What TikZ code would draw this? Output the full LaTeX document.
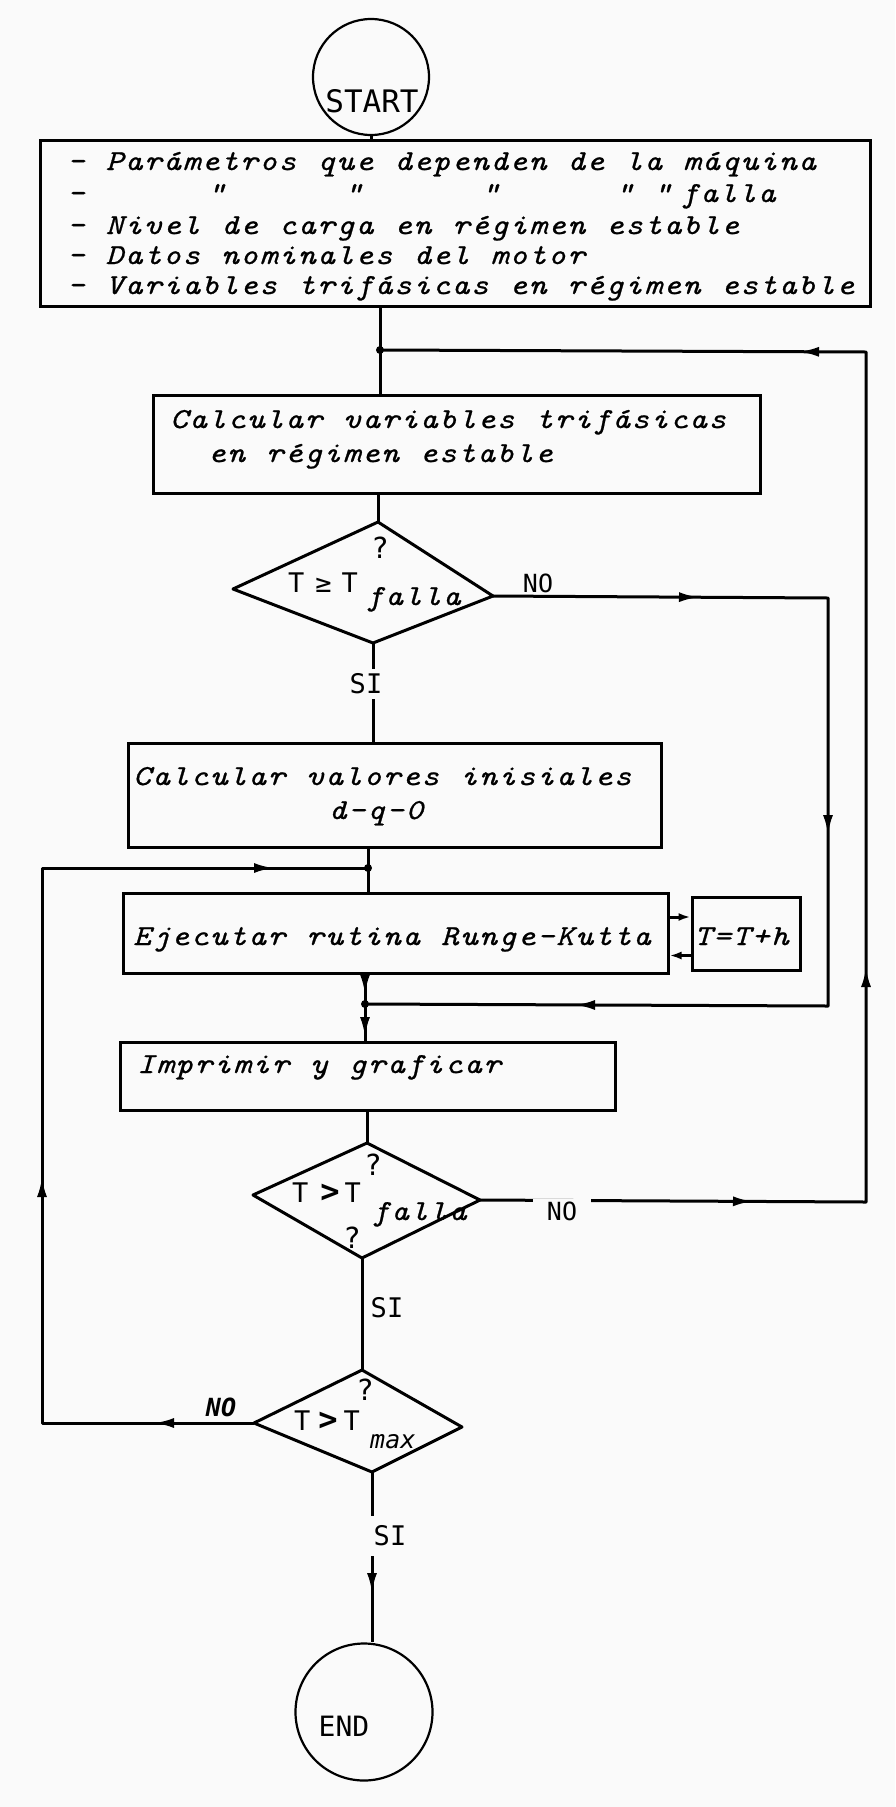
\documentclass[tikz,border=0pt]{standalone}
\usepackage{fontspec}
\usetikzlibrary{arrows.meta,decorations.markings}
\newfontfamily\scr{lmmono10-italic.otf}[FakeStretch=1.15,LetterSpace=5.9,WordSpace=1.097,FakeBold=0.8]
\newfontfamily\lbl{DejaVu Sans Mono}
\definecolor{bg}{RGB}{250,250,250}
\tikzset{
  ln/.style={line width=3pt, line join=round},
  boxnode/.style={draw, line width=3pt, rectangle, inner sep=0pt},
  dia/.style={line width=3pt, line join=round},
  term/.style={draw, line width=2.2pt, circle, inner sep=0pt},
  stxt/.style={inner sep=0pt, anchor=base west, font=\scr\fontsize{29}{31}\selectfont},
  ltxt/.style={inner sep=0pt, font=\lbl\fontsize{27}{30}\selectfont},
  qtxt/.style={inner sep=0pt, font=\lbl\fontsize{29}{31}\selectfont},
  cut/.style={fill=bg, inner xsep=14pt, inner ysep=3pt},
  jdot/.style={circle, fill, inner sep=0pt, minimum size=8pt},
  marr/.style={postaction={decorate, decoration={markings, mark=at position #1 with {\arrow{Latex[length=20pt,width=10pt]}}}}},
  smarr/.style={-{Latex[length=12pt,width=8pt]}},
}
\newcommand{\bigrel}[1]{{\bfseries\fontsize{32}{32}\selectfont #1}}
\begin{document}
\begin{tikzpicture}[x=1pt,y=-1pt]
\fill[bg] (0,0) rectangle (895,1807);
\useasboundingbox (0,0) rectangle (895,1807);

% ---------- nodes ----------
\node[term, minimum size=116pt] (start) at (371,77) {};
\node[ltxt, font=\lbl\fontsize{31}{32}\selectfont] (starttxt) at (372,101) {START};

\node[boxnode, minimum width=830pt, minimum height=166pt] (b1) at (455,223) {};
\node[stxt] (l1) at (67,170) {- Parámetros que dependen de la máquina};
\node[stxt] (l2) at (67,202) {-};
\node[stxt, anchor=base] (q1) at (216,202) {"};
\node[stxt, anchor=base] (q2) at (353,202) {"};
\node[stxt, anchor=base] (q3) at (490,202) {"};
\node[stxt, anchor=base] (q4) at (624,202) {"};
\node[stxt, anchor=base] (q5) at (662,202) {"};
\node[stxt] (l2f) at (681,202) {falla};
\node[stxt] (l3) at (67,234) {- Nivel de carga en régimen estable};
\node[stxt] (l4) at (67,264) {- Datos nominales del motor};
\node[stxt] (l5) at (67,294) {- Variables trifásicas en régimen estable};

\node[boxnode, minimum width=607pt, minimum height=98pt] (b2) at (456.5,444) {};
\node[stxt] (b2a) at (170,428) {Calcular variables trifásicas};
\node[stxt] (b2b) at (208,462) {en régimen estable};

\coordinate (d1n) at (378,522);
\coordinate (d1e) at (493,596);
\coordinate (d1s) at (373,643);
\coordinate (d1w) at (233,589);
\node[qtxt] (d1q) at (380,548) {?};
\node[ltxt, anchor=base west] (d1t) at (288,592) {T\hspace{11pt}≥\hspace{10pt}T};
\node[stxt] (d1f) at (366,605) {falla};

\node[boxnode, minimum width=533pt, minimum height=104pt] (b3) at (394.5,795) {};
\node[stxt] (b3a) at (133,785) {Calcular valores inisiales};
\node[stxt, anchor=base] (b3b) at (376,819) {d-q-0};

\node[boxnode, minimum width=545pt, minimum height=80pt] (b4) at (395.5,933) {};
\node[stxt] (b4a) at (133,945) {Ejecutar rutina Runge-Kutta};
\node[boxnode, minimum width=108pt, minimum height=73pt] (bt) at (746,933.5) {};
\node[stxt] (bta) at (694,945) {T=T+h};

\node[boxnode, minimum width=495pt, minimum height=68pt] (b5) at (367.5,1076) {};
\node[stxt] (b5a) at (137,1073) {Imprimir y graficar};

\coordinate (d2n) at (367,1143);
\coordinate (d2e) at (480,1200);
\coordinate (d2s) at (362,1258);
\coordinate (d2w) at (253,1195);
\node[qtxt] (d2q) at (373,1165) {?};
\node[ltxt, anchor=base west] (d2t) at (292,1202) {T\hspace{12pt}\bigrel{>}\hspace{5pt}T};
\node[stxt] (d2f) at (372,1220) {falla};
\node[qtxt] (d2q2) at (352,1238) {?};

\coordinate (d3n) at (362,1370);
\coordinate (d3e) at (462,1427);
\coordinate (d3s) at (372,1472);
\coordinate (d3w) at (254,1423);
\node[qtxt] (d3q) at (365,1390) {?};
\node[ltxt, anchor=base west] (d3t) at (294,1430) {T\hspace{8pt}\bigrel{>}\hspace{6pt}T};
\node[ltxt, anchor=base west, font=\lbl\itshape\fontsize{25}{27}\selectfont] (d3m) at (370,1448) {max};

\node[term, minimum size=137pt] (endc) at (364,1712) {};
\node[ltxt, font=\lbl\fontsize{28}{30}\selectfont] (endtxt) at (344,1726) {END};

% junctions and bends
\coordinate (j1) at (380,350);
\coordinate (j2) at (368,868);
\coordinate (j3) at (365,1004);
\coordinate (rtop) at (866,352);
\coordinate (rbot) at (866,1202);
\coordinate (mtop) at (828,598);
\coordinate (mbot) at (828,1006);
\coordinate (ltop) at (42,868);
\coordinate (lbot) at (42,1423);

% ---------- shapes ----------
\draw[dia] (d1n) -- (d1e) -- (d1s) -- (d1w) -- cycle;
\draw[dia] (d2n) -- (d2e) -- (d2s) -- (d2w) -- cycle;
\draw[dia] (d3n) -- (d3e) -- (d3s) -- (d3w) -- cycle;

% ---------- connectors ----------
\draw[ln] (start.south) -- (start.south |- b1.north);
\draw[ln] (j1 |- b1.south) -- (j1) -- (j1 |- b2.north);
\draw[ln] (d1n |- b2.south) -- (d1n);
\draw[ln] (d1s) -- (d1s |- b3.north);
\draw[ln] (j2 |- b3.south) -- (j2) -- (j2 |- b4.north);
\draw[ln, marr=20pt] (j3 |- b4.south) -- (j3);
\draw[ln, marr=33pt] (j3) -- (j3 |- b5.north);
\draw[ln] (d2n |- b5.south) -- (d2n);
\draw[ln] (d2s) -- (d3n);
\draw[ln, marr=121pt] (d3s) -- (d3s |- endc.north);

\draw[ln, marr=206pt, marr=572pt, marr=996pt] (d1e) -- (mtop) -- (mbot) -- (j3);
\draw[ln, marr=273pt, marr=621pt, marr=1303pt] (d2e) -- (rbot) -- (rtop) -- (j1);
\draw[ln, marr=100pt, marr=458pt, marr=999pt] (d3w) -- (lbot) -- (ltop) -- (j2);

\draw[ln, smarr] ([yshift=16pt]b4.east) -- ([yshift=16pt]b4.east -| bt.west);
\draw[ln, smarr] ([yshift=-22pt]bt.west) -- ([yshift=-22pt]bt.west -| b4.east);

\node[jdot] (dj1) at (j1) {};
\node[jdot] (dj2) at (j2) {};
\node[jdot] (dj3) at (j3) {};

% ---------- labels ----------
\node[ltxt, font=\lbl\fontsize{25}{27}\selectfont] (no1) at (538,583) {NO};
\node[ltxt, cut, minimum height=30pt] (si1) at (366,684) {SI};
\node[ltxt, cut, font=\lbl\fontsize{25}{27}\selectfont] (no2) at (562,1211) {NO};
\node[ltxt] (si2) at (387,1308) {SI};
\node[ltxt, font=\lbl\bfseries\itshape\fontsize{25}{27}\selectfont] (no3) at (221,1407) {NO};
\node[ltxt, cut, inner xsep=3pt, minimum height=40pt] (si3) at (390,1536) {SI};
\end{tikzpicture}
\end{document}
